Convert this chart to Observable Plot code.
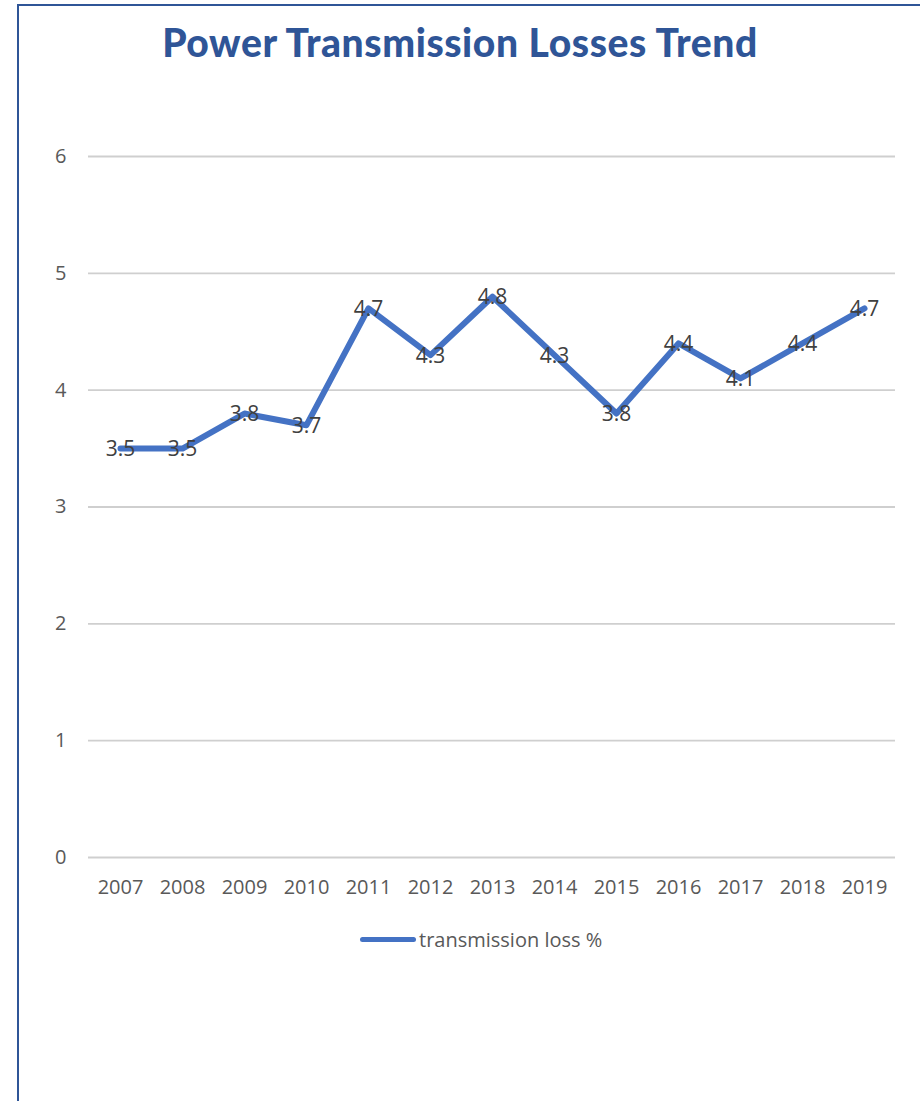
<!DOCTYPE html>
<html>
<head>
<meta charset="utf-8">
<script src="https://cdn.jsdelivr.net/npm/d3@7"></script>
<script src="https://cdn.jsdelivr.net/npm/@observablehq/plot@0.6"></script>
<style>
  html, body { margin: 0; padding: 0; background: #fff; }
  #wrap { position: relative; width: 920px; height: 1101px; overflow: hidden; background: #fff; }
  #frame { position: absolute; left: 17px; top: 4px; width: 920px; height: 1110px;
           border-left: 2.5px solid #2F5597; border-top: 2.5px solid #2F5597; box-sizing: border-box; }
  #title { position: absolute; left: 0; top: 19px; width: 920px; text-align: center;
           font-family: Lato, "Noto Sans", sans-serif; font-weight: 900; font-size: 39px;
           color: #2F5597; letter-spacing: 0.6px; }
  #chart { position: absolute; left: 0; top: 100px; }
  #legend { position: absolute; left: 360px; top: 926px; display: flex; align-items: center;
            font-family: "Open Sans", sans-serif; font-size: 20px; color: #595959; }
  #legend .swatch { width: 56px; height: 5px; border-radius: 3px; background: #4472C4; margin-right: 3px; }
</style>
</head>
<body>
<div id="wrap">
  <div id="frame"></div>
  <div id="title">Power Transmission Losses Trend</div>
  <div id="chart"></div>
  <div id="legend"><div class="swatch"></div><span>transmission loss %</span></div>
</div>
<script>
const years = ["2007","2008","2009","2010","2011","2012","2013","2014","2015","2016","2017","2018","2019"];
const lossPct = [3.5, 3.5, 3.8, 3.7, 4.7, 4.3, 4.8, 4.3, 3.8, 4.4, 4.1, 4.4, 4.7];
const yTicks = [0, 1, 2, 3, 4, 5, 6];
const seriesName = "transmission loss %";

const data = years.map((y, i) => ({year: y, value: lossPct[i]}));

const chart = Plot.plot({
  width: 920,
  height: 820,
  marginTop: 56,
  marginBottom: 63,
  marginLeft: 88,
  marginRight: 25,
  style: {fontFamily: "'Open Sans', sans-serif", fontSize: "20px", color: "#595959", background: "transparent"},
  x: {type: "band", domain: years, padding: 0, label: null},
  y: {domain: [0, 6], ticks: yTicks, label: null},
  marks: [
    Plot.ruleY(yTicks, {stroke: "#cfcfcf", strokeWidth: 1.8, strokeOpacity: 1}),
    Plot.axisY({ticks: yTicks, tickFormat: d => String(d), tickSize: 0, tickPadding: 22, label: null, fill: "#595959", fontSize: 20}),
    Plot.axisX({tickSize: 0, tickPadding: 22, label: null, fill: "#595959", fontSize: 20}),
    Plot.line(data, {x: "year", y: "value", stroke: "#4472C4", strokeWidth: 6, strokeLinejoin: "round", strokeLinecap: "round"}),
    Plot.text(data, {x: "year", y: "value", text: d => d.value.toFixed(1), fill: "#404040", fontSize: 21, dy: 1})
  ]
});
document.getElementById("chart").appendChild(chart);
</script>
</body>
</html>
